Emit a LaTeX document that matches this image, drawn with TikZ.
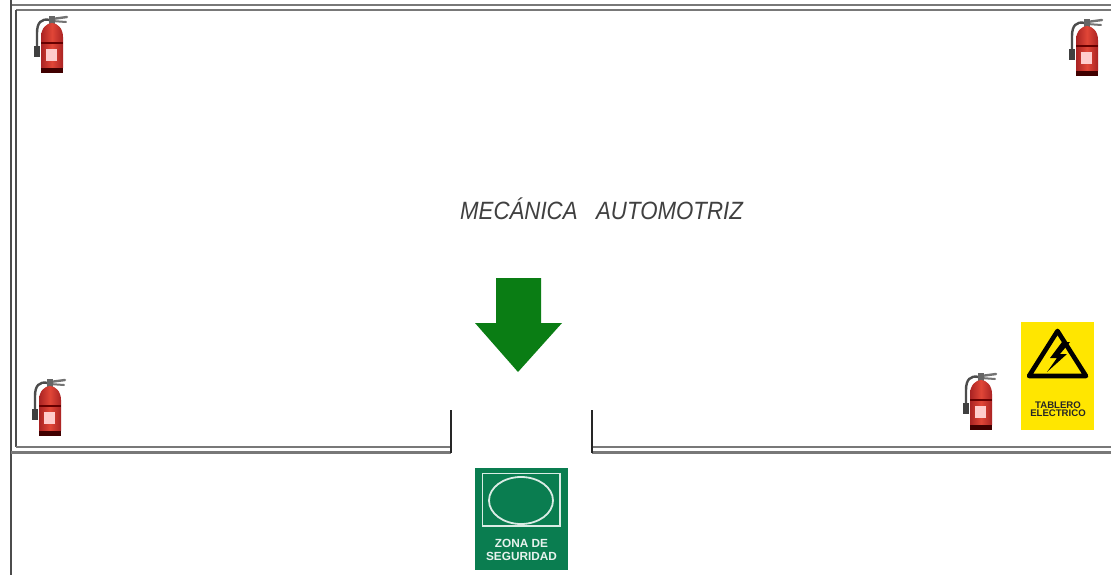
\documentclass[tikz,border=0pt]{standalone}
\usepackage{fontspec}
\setmainfont{Liberation Sans}
\usepackage{tikz}
\usetikzlibrary{positioning}
\definecolor{arrowgreen}{RGB}{10,125,20}
\definecolor{signgreen}{RGB}{10,125,80}
\definecolor{signyellow}{RGB}{255,230,0}
\definecolor{tankred}{RGB}{225,70,55}
\definecolor{tankdark}{RGB}{170,35,35}
\definecolor{wallgrey}{RGB}{120,120,120}
\tikzset{
	wallo/.style={draw=wallgrey,line width=2.8pt},
	walli/.style={draw=black!70,line width=1.8pt},
	jamb/.style={draw=black!85,line width=1.4pt},
	title/.style={inner sep=0pt,font=\fontsize{25}{30}\selectfont\itshape,text=black!75},
	ytext/.style={inner sep=0pt,align=center,font=\fontsize{9.6}{8.4}\selectfont\bfseries,text=black!85},
	gtext/.style={inner sep=0pt,align=center,font=\fontsize{11.8}{13}\selectfont\bfseries,text=white!90!signgreen},
	extinguisher/.pic={
		\draw [black!70,line width=2.4pt,line cap=round] (-2,-25) .. controls (-11,-27) and (-15,-22) .. (-15,-12) -- (-15,2);
		\fill [black!75] (-18,1) rectangle (-12,12);
		\draw [black!55,line width=2.4pt,line cap=round] (0,-26) -- (15,-28);
		\draw [black!55,line width=2pt,line cap=round] (0,-24) -- (14,-23);
		\fill [black!60] (-3,-29) rectangle (3,-21);
		\shade [left color=tankdark,right color=tankdark,middle color=tankred] (-11,-8) .. controls (-11,-17) and (-5,-22) .. (0,-22) .. controls (5,-22) and (11,-17) .. (11,-8) -- (11,23) -- (-11,23) -- cycle;
		\fill [black!75!red] (-11,23) rectangle (11,28);
		\draw [black!60!red,line width=1.6pt] (-11,-2) -- (11,-2);
		\fill [red!20] (-6,4) rectangle (5,16);
	}
}
\begin{document}
\begin{tikzpicture}[x=1pt,y=-1pt]
	\useasboundingbox [fill=white] (0,0) rectangle (1111,575);
	\draw [wallo] (11,5) -- (1111,5);
	\draw [wallo,line width=2pt] (16,10) -- (1111,10);
	\draw [walli] (11,0) -- (11,575);
	\draw [walli] (16,10) -- (16,447);
	\draw [wallo] (16,447) -- (451,447);
	\draw [wallo] (11,452.5) -- (451,452.5);
	\draw [wallo] (592,447) -- (1111,447);
	\draw [wallo] (592,452.5) -- (1111,452.5);
	\draw [jamb] (451,410) -- (451,453);
	\draw [jamb] (592,410) -- (592,453);
	\pic (E1) at (52,45) {extinguisher};
	\pic (E2) at (1087,48) {extinguisher};
	\pic (E3) at (50,408) {extinguisher};
	\pic (E4) at (981,402) {extinguisher};
	\node (T) at (601.5,209) [title] {\scalebox{0.89}[1]{MECÁNICA\ \ \ AUTOMOTRIZ}};
	\fill [arrowgreen] (496,278) -- (541,278) -- (541,323) -- (562,323) -- (518,372) -- (475,323) -- (496,323) -- cycle;
	\fill [signyellow] (1021,322) rectangle (1094,430);
	\draw [black,line width=4.6pt,line join=round,fill=signyellow] (1057.5,331) -- (1086,376) -- (1029,376) -- cycle;
	\fill [black] (1062,342) -- (1050,358) -- (1057,358) -- (1047,372) -- (1067,354) -- (1060,354) -- (1070,342) -- cycle;
	\node (Y) at (1058,409) [ytext] {TABLERO\\ELECTRICO};
	\fill [signgreen] (475,468) rectangle (568,570);
	\draw [white!85!signgreen,line width=1.8pt] (482.5,473.5) rectangle (560,526);
	\draw [white!85!signgreen,line width=1.8pt] (521,500.5) ellipse [x radius=32,y radius=23.5];
	\node (G) at (521.5,549.5) [gtext] {ZONA DE\\SEGURIDAD};
\end{tikzpicture}
\end{document}
